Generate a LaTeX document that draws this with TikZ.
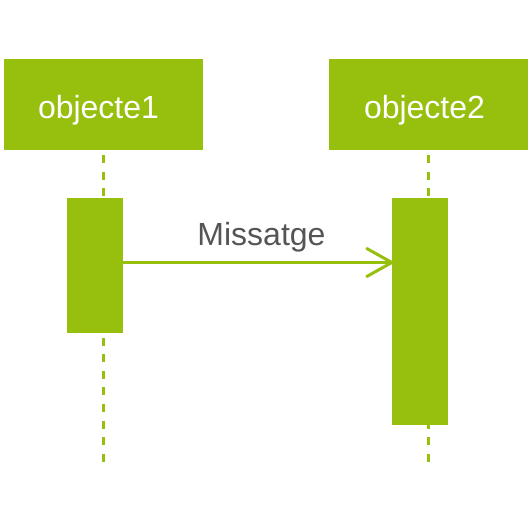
\documentclass[tikz,border=0pt]{standalone}
\usepackage{fontspec}
\setmainfont{Liberation Sans}
\usetikzlibrary{calc}
\definecolor{lime}{HTML}{97BF0D}
\definecolor{txtgray}{HTML}{555555}
\begin{document}
\begin{tikzpicture}[x=1pt,y=-1pt,
  objbox/.style={fill=lime, draw=none, minimum width=199pt, minimum height=91pt, inner sep=0pt},
  objtext/.style={text=white, font=\fontsize{32}{38}\selectfont, anchor=base, inner sep=0pt},
  actbox/.style={fill=lime, draw=none, inner sep=0pt},
  lifeline/.style={draw=lime, line width=3pt, dash pattern=on 8pt off 8.6pt},
  msg/.style={draw=lime, line width=3pt}]
\useasboundingbox (0,0) rectangle (531,525);
\node[objbox] (o1) at (103.5,104.5) {};
\node[objbox] (o2) at (428,104.5) {};
\node[objtext] (t1) at (98.5,118) {objecte1};
\node[objtext] (t2) at (424.5,118) {objecte2};
\coordinate (l1s) at (103,155);
\coordinate (l1e) at (103,463);
\coordinate (l2s) at (428,155);
\coordinate (l2e) at (428,463);
\draw[lifeline] (l1s) -- (l1e);
\draw[lifeline] (l2s) -- (l2e);
\node[actbox, minimum width=56pt, minimum height=135pt] (a1) at (95,265.5) {};
\node[actbox, minimum width=56pt, minimum height=227pt] (a2) at (420,311.5) {};
\coordinate (m1) at (a1.east |- 0,262.5);
\coordinate (m2) at (a2.west |- 0,262.5);
\draw[msg] (m1) -- (m2);
\draw[msg, line cap=round] ($(m2)+(-25,-14)$) -- (m2) -- ($(m2)+(-25,14)$);
\node[text=txtgray, font=\fontsize{32}{38}\selectfont, anchor=base, inner sep=0pt] (lbl) at (261.5,245) {Missatge};
\end{tikzpicture}
\end{document}
